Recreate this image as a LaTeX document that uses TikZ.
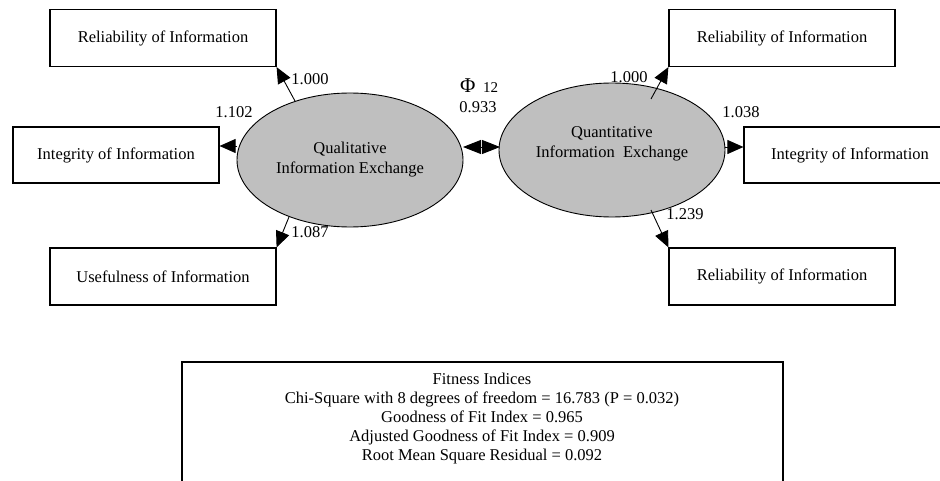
\documentclass[tikz,border=0pt]{standalone}
\usepackage{fontspec}
\setmainfont{Liberation Serif}
\usetikzlibrary{shapes.geometric,arrows.meta}
\tikzset{
  indicator/.style={draw, line width=1.2pt, inner sep=0pt, minimum height=57pt,
    font=\fontsize{16.5}{20}\selectfont},
  latent/.style={draw, ellipse, fill=gray!50, line width=0.9pt, inner sep=0pt,
    minimum width=226pt, minimum height=134pt},
  latenttext/.style={align=center, font=\fontsize{16.5}{20}\selectfont},
  loading/.style={line width=0.9pt, -{Triangle[length=16pt,width=14pt]}},
  coef/.style={inner sep=0pt, font=\fontsize{16.5}{20}\selectfont},
}
\begin{document}
\begin{tikzpicture}[x=1pt,y=-1pt]
\useasboundingbox (0,0) rectangle (940,481);
\clip (0,0) rectangle (940,481);

% latent factors
\node[latent] (qual) at (350,160) {};
\node[latent] (quan) at (612,150) {};
\node[latenttext] (qualtxt) at (qual.center) {Qualitative\\Information Exchange};
\node[latenttext] (quantxt) at ([yshift=6.5pt]quan.center) {Quantitative\\Information\ \ Exchange};

% observed indicators, left factor
\node[indicator, minimum width=226pt] (relL) at (163,38) {Reliability of Information};
\node[indicator, minimum width=206pt, minimum height=56pt] (intL) at (116,155) {Integrity of Information};
\node[indicator, minimum width=226pt] (useL) at (163,276.5) {Usefulness of Information};

% observed indicators, right factor
\node[indicator, minimum width=226pt] (relR) at (782,38) {Reliability of Information};
\node[indicator, minimum width=212pt, minimum height=56pt] (intR) at (850,155) {Integrity of Information};
\node[indicator, minimum width=226pt] (relR2) at (782,276.5) {Reliability of Information};

% loadings, left factor
\draw[loading] (qual.133) -- (relL.south east);
\coordinate (qlMid) at (237,146);
\draw[loading] (qlMid) -- (intL.east |- qlMid);
\draw[loading] (qual.223) -- (useL.north east);

% loadings, right factor
\coordinate (qnTop) at (651,99);
\coordinate (qnMid) at (725,147);
\coordinate (qnBot) at (651,210);
\draw[loading] (qnTop) -- (relR.south west);
\draw[loading] (qnMid) -- (intR.west |- qnMid);
\draw[loading] (qnBot) -- (relR2.north west);

% factor correlation
\coordinate (corrL) at (463,147);
\coordinate (corrR) at (500,147);
\draw[line width=0.9pt, {Triangle[length=18pt,width=14pt]}-{Triangle[length=18pt,width=14pt]}] (corrL) -- (corrR);

% coefficients
\node[coef] (cL1) at (310,79) {1.000};
\node[coef] (cL2) at (234,112) {1.102};
\node[coef] (cL3) at (310,232) {1.087};
\node[coef] (cR1) at (629,77) {1.000};
\node[coef] (cR2) at (741,112) {1.038};
\node[coef] (cR3) at (685,214) {1.239};
\node[inner sep=0pt, anchor=base west, font=\fontsize{21}{24}\selectfont] (phi) at (460,93) {Φ};
\node[inner sep=0pt, anchor=base west, font=\fontsize{15}{18}\selectfont] (phisub) at (483,93) {12};
\node[coef, anchor=base] (phival) at (478,113) {0.933};

% fit statistics panel
\draw[line width=1.2pt] (182,490) -- (182,362) -- (783,362) -- (783,490);
\node[align=center, inner sep=0pt, anchor=north, font=\fontsize{16.5}{19}\selectfont] (fit) at (482,373)
  {Fitness Indices\\
   Chi-Square with 8 degrees of freedom = 16.783 (P = 0.032)\\
   Goodness of Fit Index = 0.965\\
   Adjusted Goodness of Fit Index = 0.909\\
   Root Mean Square Residual = 0.092};
\end{tikzpicture}
\end{document}
